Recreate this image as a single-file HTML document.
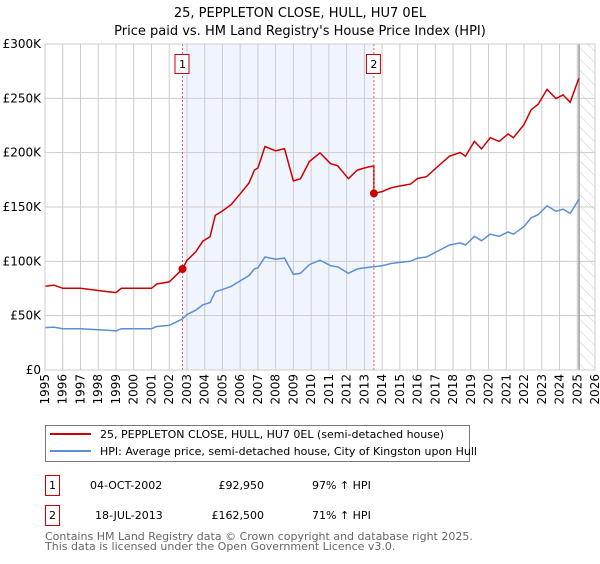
<!DOCTYPE html>
<html><head><meta charset="utf-8"><style>
body{margin:0;background:#fff;font-family:"DejaVu Sans","Liberation Sans",sans-serif;}
svg text{font-family:"DejaVu Sans","Liberation Sans",sans-serif;}
</style></head><body>
<svg id="chart" width="600" height="560" xmlns="http://www.w3.org/2000/svg">
<defs><pattern id="hatch" width="8" height="8" patternUnits="userSpaceOnUse" patternTransform="rotate(-45)"><line x1="0" y1="0" x2="0" y2="8" stroke="#ccc" stroke-width="1"/></pattern></defs>
<text x="300" y="17" text-anchor="middle" font-size="13">25, PEPPLETON CLOSE, HULL, HU7 0EL</text>
<text x="300" y="35" text-anchor="middle" font-size="13">Price paid vs. HM Land Registry's House Price Index (HPI)</text>
<g id="grid"></g><g id="plot"></g><g id="axes"></g>
<g>
<rect x="45.5" y="425.5" width="424" height="36" fill="#fff" stroke="#777"/>
<line x1="50" y1="434" x2="91" y2="434" stroke="#cc0000" stroke-width="2"/>
<text x="100" y="438" font-size="11">25, PEPPLETON CLOSE, HULL, HU7 0EL (semi-detached house)</text>
<line x1="50" y1="451" x2="91" y2="451" stroke="#5b8fd4" stroke-width="2"/>
<text x="100" y="455" font-size="11">HPI: Average price, semi-detached house, City of Kingston upon Hull</text>
</g>
<g font-size="11">
<rect x="45.5" y="475.5" width="14" height="20" fill="#fff" stroke="#cc0000"/><text x="52.5" y="489" text-anchor="middle">1</text>
<text x="90" y="489">04-OCT-2002</text><text x="264" y="489" text-anchor="end">£92,950</text><text x="312" y="489">97% ↑ HPI</text>
<rect x="45.5" y="505.5" width="14" height="20" fill="#fff" stroke="#cc0000"/><text x="52.5" y="519" text-anchor="middle">2</text>
<text x="95" y="519">18-JUL-2013</text><text x="264" y="519" text-anchor="end">£162,500</text><text x="312" y="519">71% ↑ HPI</text>
</g>
<text x="45" y="540" font-size="11" fill="#666">Contains HM Land Registry data © Crown copyright and database right 2025.</text>
<text x="45" y="550" font-size="11" fill="#666">This data is licensed under the Open Government Licence v3.0.</text>
</svg>
<script>
const hpiYears=[1995,1995.5,1996,1997,1997.5,1998,1998.5,1999,1999.3,2000,2001,2001.3,2002,2002.5,2002.75,2003,2003.5,2003.9,2004.3,2004.6,2005,2005.5,2006,2006.5,2006.8,2007,2007.4,2008,2008.5,2008.8,2009,2009.4,2009.9,2010.5,2011.1,2011.5,2012.1,2012.6,2013,2013.54,2014,2014.5,2015,2015.6,2016,2016.5,2017.2,2017.8,2018.4,2018.7,2019.2,2019.6,2020.1,2020.6,2021.1,2021.4,2022,2022.4,2022.8,2023.3,2023.8,2024.2,2024.6,2024.9,2025.1];
const hpiValues=[39,39.5,38,38,37.5,37,36.5,36,38,38,38,40,41,45,47,51,55,60,62,72,74,77,82,87,93,94,104,102,103,94,88,89,97,101,96,95,89,93,94,95,96,98,99,100,103,104,110,115,117,115,123,119,125,123,127,125,132,140,143,151,146,148,144,152,157];
const saleYears=[2002.75,2013.54];
const salePrices=[92.95,162.5];
const saleLabels=["1","2"];
const yTicks=[0,50,100,150,200,250,300];
const yTickLabels=["£0","£50K","£100K","£150K","£200K","£250K","£300K"];
const xTicks=[1995,1996,1997,1998,1999,2000,2001,2002,2003,2004,2005,2006,2007,2008,2009,2010,2011,2012,2013,2014,2015,2016,2017,2018,2019,2020,2021,2022,2023,2024,2025,2026];

const L=45,R=595,T=44,B=370,ns="http://www.w3.org/2000/svg";
const X=y=>L+(y-1995)/(2026-1995)*(R-L);
const Y=v=>B-v/300*(B-T);
function mk(tag,attrs,parent){const e=document.createElementNS(ns,tag);for(const k in attrs)e.setAttribute(k,attrs[k]);parent.appendChild(e);return e;}
const grid=document.getElementById('grid'),plot=document.getElementById('plot'),axes=document.getElementById('axes');
const lastYear=hpiYears[hpiYears.length-1];
let e=mk('rect',{x:X(saleYears[0]),y:T,width:X(saleYears[1])-X(saleYears[0]),height:B-T,fill:'#f0f4fd'},grid);


e=mk('rect',{x:X(lastYear),y:T,width:R-X(lastYear),height:B-T,fill:'url(#hatch)'},grid);


xTicks.forEach(t=>{mk('line',{x1:X(t),y1:T,x2:X(t),y2:B,stroke:'#ccc'},grid);
 const tx=mk('text',{x:0,y:0,'font-size':12,'text-anchor':'end',transform:`translate(${X(t)+4},${B+4}) rotate(-90)`},axes);tx.textContent=t;
 
 });
yTicks.forEach((t,i)=>{mk('line',{x1:L,y1:Y(t),x2:R,y2:Y(t),stroke:'#ccc'},grid);
 const tx=mk('text',{x:L-4,y:Y(t)+4,'font-size':12,'text-anchor':'end'},axes);tx.textContent=yTickLabels[i];
 
 });
mk('line',{x1:X(lastYear),y1:T,x2:X(lastYear),y2:B,stroke:'#999','stroke-width':1.5},grid);
// property line: HPI indexed to each sale
const hpiAt=y=>{for(let i=1;i<hpiYears.length;i++)if(y<=hpiYears[i]){const f=(y-hpiYears[i-1])/(hpiYears[i]-hpiYears[i-1]);return hpiValues[i-1]+f*(hpiValues[i]-hpiValues[i-1]);}return hpiValues[hpiValues.length-1];};
const r1=salePrices[0]/hpiAt(saleYears[0]),r2=salePrices[1]/hpiAt(saleYears[1]);
const hp=hpiYears.map((y,i)=>`${X(y).toFixed(1)},${Y(hpiValues[i]).toFixed(1)}`).join(' ');
e=mk('polyline',{points:hp,fill:'none',stroke:'#5b8fd4','stroke-width':1.5},plot);


const rp=[];
hpiYears.forEach((y,i)=>{if(y<saleYears[1])rp.push([y,hpiValues[i]*r1]);});
rp.push([saleYears[1],hpiAt(saleYears[1])*r1]);rp.push([saleYears[1],salePrices[1]]);
hpiYears.forEach((y,i)=>{if(y>saleYears[1])rp.push([y,hpiValues[i]*r2]);});
e=mk('polyline',{points:rp.map(p=>`${X(p[0]).toFixed(1)},${Y(p[1]).toFixed(1)}`).join(' '),fill:'none',stroke:'#cc0000','stroke-width':1.5},plot);


saleYears.forEach((y,i)=>{
 mk('line',{x1:X(y),y1:T,x2:X(y),y2:B,stroke:'#e06060','stroke-dasharray':'2,2'},plot);
 const c=mk('circle',{cx:X(y),cy:Y(salePrices[i]),r:4,fill:'#cc0000'},plot);
 
 
 mk('rect',{x:X(y)-7.5,y:54.5,width:14,height:19,fill:'#fff',stroke:'#cc0000'},plot);
 const t=mk('text',{x:X(y),y:68,'font-size':11,'text-anchor':'middle'},plot);t.textContent=saleLabels[i];
 
 
});
mk('rect',{x:L,y:T,width:R-L,height:B-T,fill:'none',stroke:'#ccc'},axes);
</script>
</body></html>
